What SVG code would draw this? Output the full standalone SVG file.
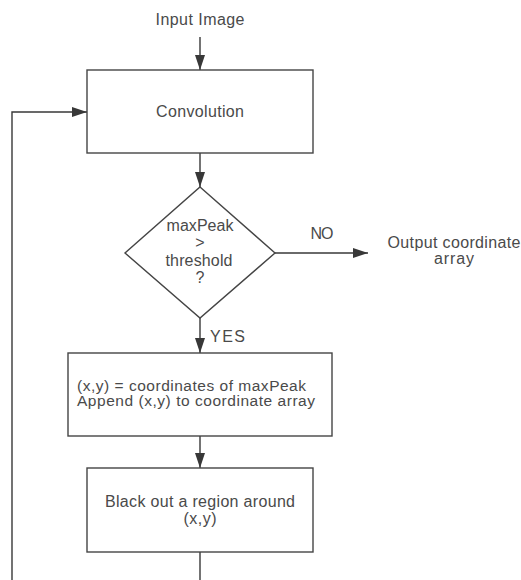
<svg xmlns="http://www.w3.org/2000/svg" width="521" height="580" viewBox="0 0 521 580">
<defs>
<marker id="ah" markerWidth="15" markerHeight="10" refX="15" refY="5" orient="auto" markerUnits="userSpaceOnUse">
<path d="M0,0 L15,5 L0,10 Z" fill="#383838"/>
</marker>
<style>
.box{fill:#fff;stroke:#454545;stroke-width:1.4}
.ln{fill:none;stroke:#383838;stroke-width:1.4}
.t{font-family:"Liberation Sans",Arial,sans-serif;font-size:16px;fill:#4a4a4a}
.s{font-size:15.5px}
.c{text-anchor:middle}
</style>
</defs>
<rect width="521" height="580" fill="#fff"/>
<g id="connectors">
<line class="ln" x1="200" y1="37" x2="200" y2="70" marker-end="url(#ah)"/>
<line class="ln" x1="200" y1="153" x2="200" y2="187" marker-end="url(#ah)"/>
<line class="ln" x1="275" y1="253" x2="368" y2="253" marker-end="url(#ah)"/>
<line class="ln" x1="200" y1="318" x2="200" y2="353" marker-end="url(#ah)"/>
<line class="ln" x1="200" y1="436" x2="200" y2="468" marker-end="url(#ah)"/>
<polyline class="ln" points="200,552 200,580"/>
<polyline class="ln" points="12,580 12,112 87,112" marker-end="url(#ah)"/>
<text class="t c" x="322" y="239" textLength="23">NO</text>
<text class="t" x="210" y="342" textLength="35">YES</text>
</g>
<g id="input">
<text class="t c" x="200" y="25" textLength="89">Input Image</text>
</g>
<g id="convolution">
<rect class="box" x="87" y="70" width="226" height="83"/>
<text class="t c" x="200" y="117" textLength="88">Convolution</text>
</g>
<g id="decision">
<polygon class="box" points="200,187 275,253 200,318 125,253"/>
<text class="t c" x="200" y="231" textLength="67">maxPeak</text>
<text class="t c" x="200" y="248">&gt;</text>
<text class="t c" x="199" y="266" textLength="67">threshold</text>
<text class="t c" x="200" y="283">?</text>
</g>
<g id="output">
<text class="t c" x="454" y="248" textLength="133">Output coordinate</text>
<text class="t c" x="454" y="264" textLength="40">array</text>
</g>
<g id="append">
<rect class="box" x="68" y="353" width="264" height="83"/>
<text class="t s" x="77" y="391" textLength="229">(x,y) = coordinates of maxPeak</text>
<text class="t s" x="77" y="406" textLength="238">Append (x,y) to coordinate array</text>
</g>
<g id="blackout">
<rect class="box" x="87" y="468" width="226" height="84"/>
<text class="t c" x="200" y="507" textLength="190">Black out a region around</text>
<text class="t c" x="200" y="524" textLength="33">(x,y)</text>
</g>
</svg>
